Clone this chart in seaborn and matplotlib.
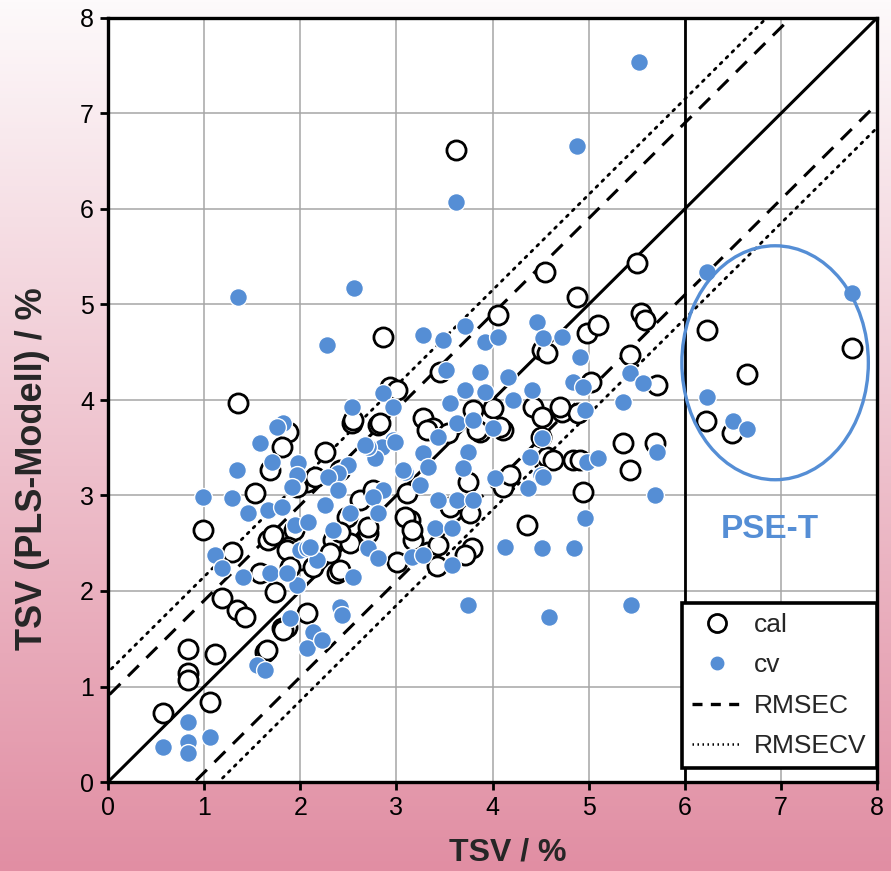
import numpy as np
import pandas as pd
import matplotlib
matplotlib.use("Agg")
import matplotlib.pyplot as plt
from matplotlib.lines import Line2D
from matplotlib.patches import Ellipse
import seaborn as sns

# Calibration predictions (reference TSV vs. PLS model TSV), in %
cal_x = [0.57, 0.83, 0.83, 0.83, 1.11, 1.06, 1.19, 1.34, 1.43, 1.63, 1.74, 1.86, 2.07, 2.38,
         0.99, 1.35, 1.87, 1.81, 1.69, 2.26, 2.07, 2.54, 1.53, 1.66, 1.93, 2.49, 1.29, 1.87,
         2.34, 2.41, 2.00, 1.58, 2.86, 4.06, 4.52, 2.93, 3.45, 3.80, 4.01, 4.11, 3.87, 4.42,
         4.52, 2.55, 2.81, 3.28, 3.38, 4.57, 4.15, 3.75, 3.11, 3.56, 3.14, 3.77, 4.36, 3.79,
         3.17, 3.33, 2.52, 2.70, 3.62, 4.55, 5.50, 4.88, 5.54, 5.59, 4.98, 5.10, 5.43, 5.71,
         4.57, 5.02, 4.72, 4.89, 5.36, 5.69, 4.84, 5.43, 4.94, 4.63, 1.81, 1.65, 1.86, 1.82,
         3.32, 3.09, 4.91, 4.11, 4.18, 4.50, 4.70, 4.08, 3.84, 3.54, 3.16, 6.23, 6.65, 7.74,
         6.22, 6.49, 1.97, 2.15, 2.83, 2.70, 2.41, 2.31, 2.13, 1.89, 3.01, 1.72, 2.62, 2.76,
         2.41, 3.01, 3.43, 3.42, 3.71]
cal_y = [0.72, 1.39, 1.14, 1.07, 1.34, 0.84, 1.93, 1.80, 1.73, 1.36, 1.99, 1.62, 1.77, 2.19,
         2.64, 3.97, 3.66, 3.51, 3.27, 3.46, 3.14, 3.76, 3.03, 2.53, 2.64, 2.78, 2.41, 2.46,
         2.53, 2.22, 2.32, 2.19, 4.66, 4.89, 4.52, 4.14, 4.29, 3.90, 3.92, 3.69, 3.66, 3.93,
         3.82, 3.79, 3.74, 3.81, 3.71, 3.40, 3.18, 3.14, 3.03, 2.88, 2.74, 2.82, 2.69, 2.45,
         2.53, 2.41, 2.50, 2.61, 6.62, 5.34, 5.43, 5.08, 4.91, 4.84, 4.70, 4.79, 4.47, 4.16,
         4.49, 4.19, 3.87, 3.86, 3.55, 3.55, 3.37, 3.27, 3.04, 3.37, 1.61, 1.38, 2.43, 1.59,
         3.69, 2.77, 3.37, 3.09, 3.21, 3.61, 3.93, 3.72, 3.69, 3.65, 2.64, 4.73, 4.27, 4.54,
         3.78, 3.65, 3.09, 3.19, 3.76, 2.67, 2.62, 2.40, 2.25, 2.25, 2.30, 2.59, 2.95, 3.06,
         3.27, 4.10, 2.48, 2.26, 2.38]

# Cross-validation predictions, in %
cv_x = [5.52, 4.88, 3.62, 1.35, 2.56, 2.28, 6.23, 7.74, 6.23, 6.50, 6.65, 2.54, 1.82, 1.76,
        1.58, 1.71, 1.34, 1.98, 1.97, 1.91, 2.50, 2.39, 2.29, 2.39, 0.99, 1.29, 1.46, 1.66,
        1.81, 2.26, 2.52, 1.95, 2.08, 2.34, 1.11, 1.19, 1.40, 1.69, 2.00, 2.07, 2.17, 2.55,
        3.28, 3.48, 3.71, 3.92, 4.06, 4.46, 4.53, 3.52, 3.87, 3.71, 3.92, 4.16, 4.21, 4.41,
        2.86, 2.97, 3.56, 3.63, 3.80, 4.00, 3.43, 4.52, 4.39, 2.97, 2.85, 2.78, 2.70, 3.28,
        3.74, 3.33, 3.69, 3.09, 4.03, 4.50, 4.37, 2.86, 2.76, 3.25, 3.43, 3.63, 3.80, 2.81,
        3.40, 3.58, 2.71, 2.81, 3.16, 3.28, 3.58, 4.13, 4.52, 4.72, 4.91, 4.84, 4.94, 5.43,
        5.57, 5.36, 4.96, 4.53, 4.98, 5.10, 5.71, 5.69, 4.96, 4.59, 5.44, 3.74, 4.85, 1.89,
        2.13, 2.07, 2.23, 2.41, 2.43, 1.55, 1.63, 0.83, 0.83, 0.83, 0.57, 1.06, 1.97, 2.67,
        2.99, 3.07, 2.10, 1.86]
cv_y = [7.54, 6.66, 6.07, 5.08, 5.17, 4.58, 5.34, 5.12, 4.03, 3.78, 3.70, 3.93, 3.76, 3.72,
        3.55, 3.35, 3.27, 3.34, 3.21, 3.09, 3.32, 3.24, 3.19, 3.06, 2.98, 2.97, 2.82, 2.85,
        2.88, 2.90, 2.82, 2.69, 2.72, 2.64, 2.38, 2.24, 2.15, 2.19, 2.43, 2.45, 2.32, 2.15,
        4.68, 4.63, 4.77, 4.61, 4.66, 4.82, 4.65, 4.31, 4.29, 4.10, 4.08, 4.24, 4.00, 4.10,
        4.07, 3.93, 3.97, 3.76, 3.79, 3.71, 3.61, 3.60, 3.40, 3.58, 3.51, 3.39, 3.51, 3.44,
        3.46, 3.30, 3.29, 3.25, 3.18, 3.21, 3.08, 3.06, 2.98, 3.11, 2.95, 2.95, 2.95, 2.82,
        2.66, 2.66, 2.45, 2.35, 2.36, 2.38, 2.27, 2.46, 2.45, 4.66, 4.45, 4.19, 4.14, 4.28,
        4.18, 3.98, 3.90, 3.19, 3.35, 3.39, 3.46, 3.01, 2.76, 1.73, 1.85, 1.85, 2.45, 1.72,
        1.57, 1.40, 1.49, 1.83, 1.75, 1.23, 1.17, 0.63, 0.42, 0.30, 0.37, 0.47, 2.06, 3.53,
        3.56, 3.27, 2.46, 2.19]

# Error bands around the 1:1 line
rmsec = 0.9
rmsecv = 1.15
limit = 8
pse_threshold = 6

x_label = "TSV / %"
y_label = "TSV (PLS-Modell) / %"
legend_labels = ["cal", "cv", "RMSEC", "RMSECV"]
ticks = list(range(0, 9))

blue = "#558ED5"

cal_df = pd.DataFrame({"x": cal_x, "y": cal_y})
cv_df = pd.DataFrame({"x": cv_x, "y": cv_y})

sns.set_theme(style="white")
plt.rcParams["font.family"] = ["Liberation Sans", "DejaVu Sans"]

fig = plt.figure(figsize=(8.91, 8.71), dpi=100)

# Vertical white-to-pink background gradient
bg = fig.add_axes([0, 0, 1, 1], zorder=-10)
top_c = np.array([253, 250, 251]) / 255
bot_c = np.array([225, 142, 163]) / 255
t = np.linspace(0, 1, 256)[:, None]
grad = top_c[None, :] * (1 - t) + bot_c[None, :] * t
bg.imshow(grad[:, None, :], aspect="auto", extent=[0, 1, 0, 1], origin="upper")
bg.axis("off")

ax = fig.add_axes([108 / 891, 1 - 782 / 871, 769 / 891, 764 / 871])
ax.set_facecolor("white")

# Reference lines
xs = np.array([-2.0, 10.0])
ax.plot(xs, xs, color="black", lw=2.2, zorder=2)
for off in (rmsec, -rmsec):
    ax.plot(xs, xs + off, color="black", lw=2.2, ls=(0, (5, 3.5)), zorder=2)
for off in (rmsecv, -rmsecv):
    ax.plot(xs, xs + off, color="black", lw=2.0, ls=(0, (0.8, 2.2)),
            dash_capstyle="round", zorder=2)
ax.axvline(pse_threshold, color="black", lw=2.0, zorder=2)

# Calibration and cross-validation scatter
sns.scatterplot(data=cal_df, x="x", y="y", ax=ax, marker="o", s=190,
                facecolor="white", edgecolor="black", linewidth=2.0, zorder=3)
sns.scatterplot(data=cv_df, x="x", y="y", ax=ax, marker="o", s=165,
                color=blue, edgecolor="white", linewidth=1.0, zorder=4)

# Highlight of the PSE-T samples
ax.add_patch(Ellipse((6.94, 4.39), 1.94, 2.45, fill=False, edgecolor=blue,
                     lw=2.4, zorder=5))
ax.text(6.89, 2.64, "PSE-T", color=blue, fontsize=24, fontweight="bold",
        ha="center", va="center", zorder=5)

ax.set_xlim(0, limit)
ax.set_ylim(0, limit)
ax.set_xticks(ticks)
ax.set_yticks(ticks)
ax.grid(True, color="#A6A6A6", lw=1.1, zorder=0)
ax.set_axisbelow(True)
for sp in ax.spines.values():
    sp.set_color("black")
    sp.set_linewidth(2.4)
ax.tick_params(axis="both", direction="out", length=6, width=2, color="black",
               labelsize=18, labelcolor="black", pad=4, bottom=True, left=True)
ax.set_xlabel(x_label, fontsize=23, fontweight="bold")
ax.set_ylabel(y_label, fontsize=26, fontweight="bold")
ax.xaxis.set_label_coords(0.52, -0.072)
ax.yaxis.set_label_coords(-0.076, 0.41)

handles = [
    Line2D([], [], ls="none", marker="o", markersize=13, markerfacecolor="white",
           markeredgecolor="black", markeredgewidth=2),
    Line2D([], [], ls="none", marker="o", markersize=9, markerfacecolor=blue,
           markeredgecolor=blue),
    Line2D([], [], color="black", lw=2.4, ls=(0, (3, 2.5))),
    Line2D([], [], color="black", lw=1.8, ls=(0, (0.6, 1.4))),
]
leg = ax.legend(handles, legend_labels, loc="lower right",
                bbox_to_anchor=(1.0, 0.018), borderaxespad=0, frameon=True,
                fancybox=False, fontsize=19, handlelength=1.9, handletextpad=0.45,
                labelspacing=0.62, borderpad=0.38)
leg.get_frame().set_edgecolor("black")
leg.get_frame().set_linewidth(2.6)
leg.get_frame().set_facecolor("white")
leg.get_frame().set_alpha(1)
leg.set_zorder(6)

fig.savefig("out.png", dpi=100)
